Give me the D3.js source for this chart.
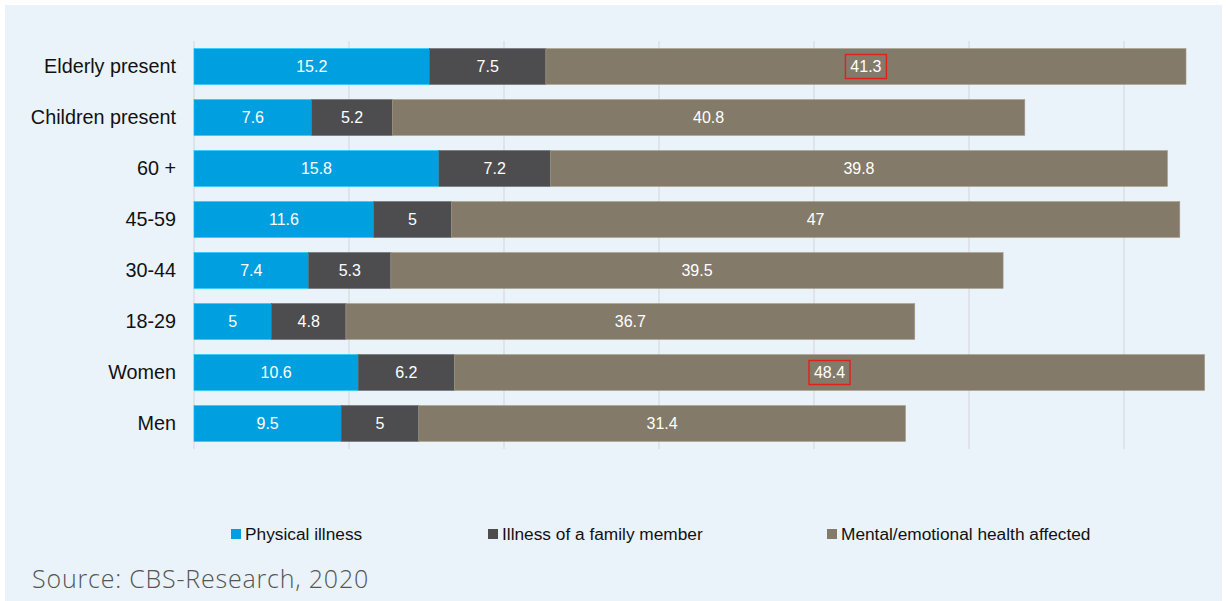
<!DOCTYPE html>
<html>
<head>
<meta charset="utf-8">
<script src="https://cdn.jsdelivr.net/npm/d3@7"></script>
<style>
  html, body { margin: 0; padding: 0; background: #ffffff; }
  svg { display: block; }
</style>
</head>
<body>
<svg id="chart" width="1226" height="601"></svg>
<script>
// Reasons reported, by group (percent)
const categories = ["Elderly present", "Children present", "60 +", "45-59", "30-44", "18-29", "Women", "Men"];
const physical   = [15.2, 7.6, 15.8, 11.6, 7.4, 5.0, 10.6, 9.5];
const familyIll  = [7.5, 5.2, 7.2, 5.0, 5.3, 4.8, 6.2, 5.0];
const mental     = [41.3, 40.8, 39.8, 47.0, 39.5, 36.7, 48.4, 31.4];
const seriesNames  = ["Physical illness", "Illness of a family member", "Mental/emotional health affected"];
const seriesColors = ["#009fdf", "#4d4d4f", "#847a69"];
const highlighted  = [["Elderly present", 2], ["Women", 2]];
const xTicks = [0, 10, 20, 30, 40, 50, 60];

const svg = d3.select("#chart");
const W = 1226, H = 601;

// panel background
svg.append("rect").attr("x", 5).attr("y", 5).attr("width", W - 9).attr("height", H - 5)
  .attr("fill", "#eaf2fa");

const rows = categories.map((c, i) => ({ cat: c, vals: [physical[i], familyIll[i], mental[i]] }));

const x = d3.scaleLinear().domain([0, 10]).range([194, 349]);
const y = d3.scaleBand().domain(categories).range([41, 449]).paddingInner(0.3).paddingOuter(0.15);

// vertical gridlines
svg.append("g").selectAll("line").data(xTicks).join("line")
  .attr("x1", d => x(d)).attr("x2", d => x(d))
  .attr("y1", 41).attr("y2", 449)
  .attr("stroke", "#d7dbe0").attr("stroke-width", 1.2);

// stacked segments
const stack = d3.stack().keys([0, 1, 2]).value((d, k) => d.vals[k]);
const layers = stack(rows);

const g = svg.append("g");
layers.forEach((layer, k) => {
  g.append("g").selectAll("rect").data(layer).join("rect")
    .attr("x", d => x(d[0]))
    .attr("y", d => y(d.data.cat))
    .attr("width", d => x(d[1]) - x(d[0]))
    .attr("height", y.bandwidth())
    .attr("fill", seriesColors[k])
    .attr("stroke", d3.color(seriesColors[k]).brighter(0.6))
    .attr("stroke-width", 0.6);
});

// value labels
layers.forEach((layer, k) => {
  g.append("g").selectAll("text").data(layer).join("text")
    .attr("x", d => (x(d[0]) + x(d[1])) / 2)
    .attr("y", d => y(d.data.cat) + y.bandwidth() / 2)
    .attr("dy", "0.36em")
    .attr("text-anchor", "middle")
    .attr("font-family", "'Liberation Sans', Arial, sans-serif")
    .attr("font-size", 16)
    .attr("fill", "#ffffff")
    .text(d => d3.format("~g")(d.data.vals[k]));
});

// highlight boxes around selected values
highlighted.forEach(([cat, k]) => {
  const seg = layers[k].find(d => d.data.cat === cat);
  const cx = (x(seg[0]) + x(seg[1])) / 2;
  const cy = y(cat) + y.bandwidth() / 2;
  svg.append("rect")
    .attr("x", cx - 20.5).attr("y", cy - 12)
    .attr("width", 41).attr("height", 24)
    .attr("fill", "none").attr("stroke", "#e0201b").attr("stroke-width", 1.4);
});

// category axis labels
svg.append("g").selectAll("text").data(categories).join("text")
  .attr("x", 176)
  .attr("y", d => y(d) + y.bandwidth() / 2)
  .attr("dy", "0.33em")
  .attr("text-anchor", "end")
  .attr("font-family", "'Liberation Sans', Arial, sans-serif")
  .attr("font-size", 19.8)
  .attr("fill", "#111111")
  .text(d => d);

// legend
const legendX = [231, 488, 827];
const lg = svg.append("g").selectAll("g").data(seriesNames).join("g")
  .attr("transform", (d, i) => `translate(${legendX[i]},534)`);
lg.append("rect").attr("x", 0).attr("y", -5).attr("width", 10).attr("height", 10)
  .attr("fill", (d, i) => seriesColors[i]);
lg.append("text").attr("x", 14).attr("y", 0).attr("dy", "0.36em")
  .attr("font-family", "'Liberation Sans', Arial, sans-serif")
  .attr("font-size", 17.3)
  .attr("fill", "#111111")
  .text(d => d);

// source note
svg.append("text")
  .attr("x", 32).attr("y", 588)
  .attr("font-family", "'Open Sans', Lato, sans-serif")
  .attr("font-weight", 300)
  .attr("font-size", 25)
  .attr("letter-spacing", 0.8)
  .attr("fill", "#555555")
  .text("Source: CBS-Research, 2020");
</script>
</body>
</html>
